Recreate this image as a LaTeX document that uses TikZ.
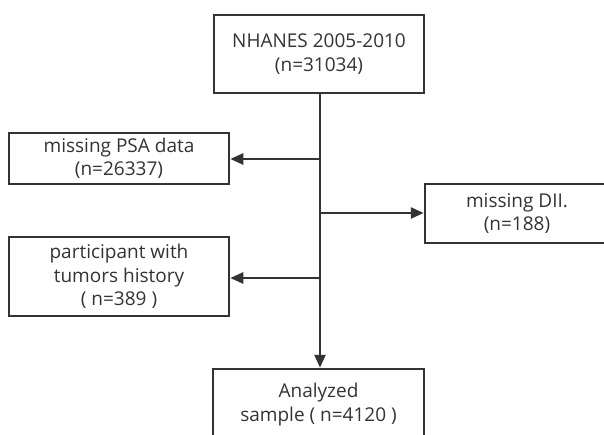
\documentclass[tikz,border=0pt]{standalone}
\usepackage{fontspec}
\setmainfont{Open Sans}
\usetikzlibrary{arrows.meta}
\definecolor{ink}{HTML}{333333}
\begin{document}
\begin{tikzpicture}[x=1pt,y=-1pt,
  box/.style={draw=ink, line width=2.5pt, text=ink, align=center, inner sep=0pt,
    font=\fontsize{19}{23.5}\selectfont},
  arr/.style={draw=ink, line width=2.5pt, -{Triangle[length=13pt,width=11pt]}},
  ln/.style={draw=ink, line width=2.5pt}]
\useasboundingbox (0,0) rectangle (604,435);
\node[box, minimum width=210, minimum height=78] (top) at (319,54) {NHANES 2005-2010\\(n=31034)};
\node[box, minimum width=220, minimum height=51] (psa) at (119,158.5) {missing PSA data\\(n=26337)};
\node[box, minimum width=184, minimum height=59] (dii) at (517,213.5) {missing DII.\\(n=188)};
\node[box, minimum width=220, minimum height=79] (tum) at (119,276.5) {participant with\\tumors history\\( n=389 )};
\node[box, minimum width=211, minimum height=71] (bot) at (318.5,404.5) {Analyzed\\sample ( n=4120 )};
\coordinate (sp) at (320,93);
\coordinate (j1) at (320,159);
\coordinate (j2) at (320,213);
\coordinate (j3) at (320,278);
\draw[arr] (sp) -- (sp |- bot.north);
\draw[arr] (j1) -- (psa.east |- j1);
\draw[arr] (j2) -- (dii.west |- j2);
\draw[arr] (j3) -- (tum.east |- j3);
\end{tikzpicture}
\end{document}
